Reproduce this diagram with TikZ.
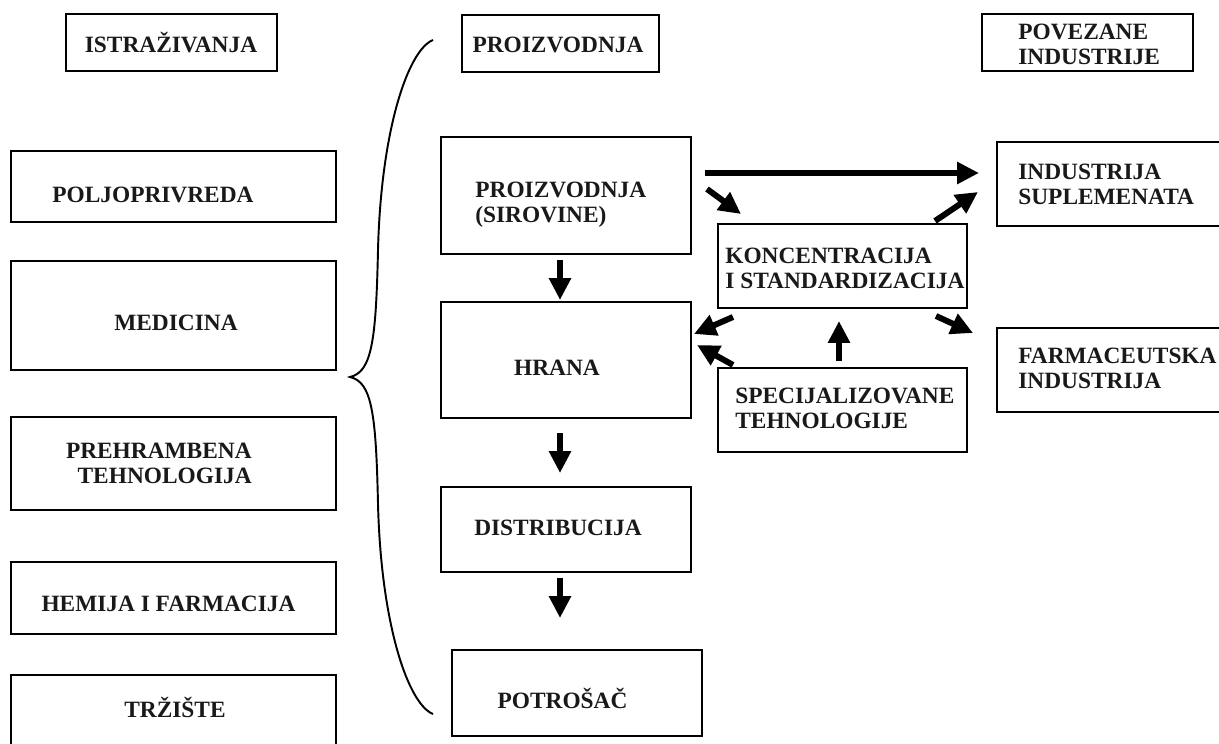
\documentclass[tikz,border=0pt]{standalone}
\usepackage{fontspec}
\setmainfont{Liberation Serif}
\usetikzlibrary{arrows.meta}
\newlength\pxl
\setlength\pxl{0.02cm}
\begin{document}
\begin{tikzpicture}[x=0.02cm, y=-0.02cm,
  panel/.style={draw, line width=1.5pt, inner sep=0pt, outer sep=0pt},
  lbl/.style={font=\bfseries\fontsize{13.3}{14.2}\selectfont, inner sep=0pt, text=black!90},
  flow/.style={line width=3.4pt, -{Triangle[length=12.5pt,width=12pt]}},
  brace/.style={line width=1.1pt}]
\useasboundingbox (0,0) rectangle (1219,743);
\fill[white] (0,0) rectangle (1219,743);

% column headers
\node[panel, minimum width=4.22cm, minimum height=1.14cm] (istr)  at (171.5,42.5) {};
\node[panel, minimum width=3.94cm, minimum height=1.14cm] (proiz) at (560.5,43.5) {};
\node[panel, minimum width=4.22cm, minimum height=1.14cm] (povez) at (1087.5,42.5) {};
\node[lbl] (istrT)  at (171,43) {ISTRAŽIVANJA};
\node[lbl] (proizT) at (558,45) {PROIZVODNJA};
\node[lbl, align=left, anchor=west] (povezT) at (1018,44.5) {POVEZANE\\INDUSTRIJE};

% research fields
\node[panel, minimum width=6.5cm, minimum height=1.42cm] (polj) at (173.5,186.5) {};
\node[panel, minimum width=6.5cm, minimum height=2.18cm] (med)  at (173.5,315.5) {};
\node[panel, minimum width=6.5cm, minimum height=1.86cm] (preh) at (173.5,463.5) {};
\node[panel, minimum width=6.5cm, minimum height=1.44cm] (hem)  at (173.5,598) {};
\node[panel, minimum width=6.5cm, minimum height=1.5cm]  (trz)  at (173.5,712.5) {};
\node[lbl, anchor=west] (poljT) at (52,195) {POLJOPRIVREDA};
\node[lbl] (medT) at (176,323) {MEDICINA};
\node[lbl, align=right, anchor=east] (prehT) at (252,463.5) {PREHRAMBENA\\TEHNOLOGIJA};
\node[lbl] (hemT) at (168.5,604) {HEMIJA I FARMACIJA};
\node[lbl] (trzT) at (175,707) {TRŽIŠTE};

% production chain
\node[panel, minimum width=5cm, minimum height=2.34cm] (sirov) at (566,195.5) {};
\node[panel, minimum width=5cm, minimum height=2.32cm] (hrana) at (566,360) {};
\node[panel, minimum width=5cm, minimum height=1.7cm]  (distr) at (566,529.5) {};
\node[panel, minimum width=5cm, minimum height=1.72cm] (potr)  at (577,693) {};
\node[lbl, align=left, anchor=west] (sirovT) at (475,204.5) {PROIZVODNJA\\(SIROVINE)};
\node[lbl] (hranaT) at (557,368) {HRANA};
\node[lbl] (distrT) at (558,528) {DISTRIBUCIJA};
\node[lbl] (potrT)  at (562.5,698) {POTROŠAČ};

% processing
\node[panel, minimum width=4.98cm, minimum height=1.68cm] (konc) at (842.5,266) {};
\node[panel, minimum width=4.98cm, minimum height=1.68cm] (spec) at (842.5,410) {};
\node[lbl, align=left, anchor=west] (koncT) at (725,268) {KONCENTRACIJA\\I STANDARDIZACIJA};
\node[lbl, align=left, anchor=west] (specT) at (735,408) {SPECIJALIZOVANE\\TEHNOLOGIJE};

% related industries
\node[panel, minimum width=4.56cm, minimum height=1.68cm] (supl) at (1111,184) {};
\node[panel, minimum width=4.56cm, minimum height=1.68cm] (farm) at (1111,370) {};
\node[lbl, align=left, anchor=west] (suplT) at (1018,184) {INDUSTRIJA\\SUPLEMENATA};
\node[lbl, align=left, anchor=west] (farmT) at (1018,368.5) {FARMACEUTSKA\\INDUSTRIJA};

% curly brace joining research and production
\draw[brace] (433,40) .. controls (408,50) and (381,130) .. (378,250)
  .. controls (376,340) and (372,372) .. (350,377)
  .. controls (372,382) and (376,414) .. (378,504)
  .. controls (381,624) and (408,704) .. (433,714);

% arrow end points
\coordinate (s1) at (560,260); \coordinate (e1) at (560,300);
\coordinate (s2) at (560,433); \coordinate (e2) at (560,473);
\coordinate (s3) at (560,578); \coordinate (e3) at (560,618);
\coordinate (hs) at (705,173); \coordinate (he) at (979,173);
\coordinate (ks) at (707,189); \coordinate (ke) at (741,214);
\coordinate (us) at (935,221); \coordinate (ue) at (978,192);
\coordinate (hks) at (733,317); \coordinate (hke) at (694,334);
\coordinate (hss) at (733,365); \coordinate (hse) at (697,345);
\coordinate (sks) at (839,361); \coordinate (ske) at (839,321);
\coordinate (fs) at (936,316); \coordinate (fe) at (973,333);

\draw[flow] (s1) -- (e1);
\draw[flow] (s2) -- (e2);
\draw[flow] (s3) -- (e3);
\draw[flow] (hs) -- (he);
\draw[flow] (ks) -- (ke);
\draw[flow] (us) -- (ue);
\draw[flow] (hks) -- (hke);
\draw[flow] (hss) -- (hse);
\draw[flow] (sks) -- (ske);
\draw[flow] (fs) -- (fe);
\end{tikzpicture}
\end{document}
